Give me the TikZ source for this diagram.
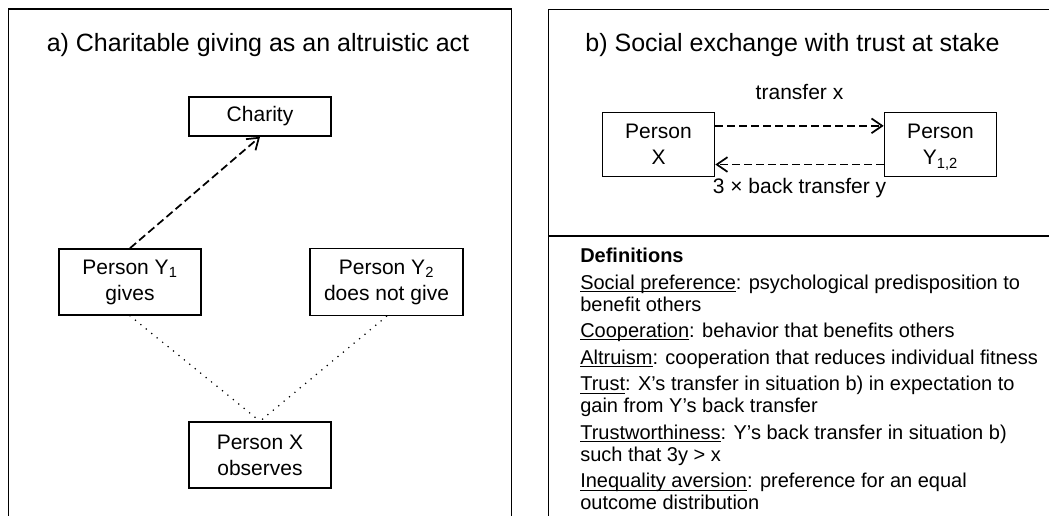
\documentclass[tikz,border=0pt]{standalone}
\usepackage{fontspec}
\setmainfont{Liberation Sans}
\usetikzlibrary{positioning,arrows.meta}
\newcommand\defword[1]{\underline{\smash{#1}}}
\tikzset{
  box/.style={draw, line width=1.2pt, align=center, inner sep=0pt,
    minimum width=106.5pt, minimum height=49.5pt,
    font=\fontsize{15.75}{19.5}\selectfont},
  lbl/.style={font=\fontsize{15.75}{19.5}\selectfont},
  heading/.style={anchor=base, font=\fontsize{18.75}{22}\selectfont},
  panel/.style={line width=1.2pt},
  dasharrow/.style={->, line width=1.3pt, dash pattern=on 6pt off 3pt},
  dotline/.style={line width=1.3pt, line cap=round, dash pattern=on 0pt off 5.25pt},
  >={Straight Barb[length=8pt,width=11pt]}
}
\begin{document}
\begin{tikzpicture}[x=0.75pt,y=-0.75pt]
\useasboundingbox (0,0) rectangle (1049,515);
\draw[panel] (8.5,520) -- (8.5,9) -- (511.5,9) -- (511.5,520);
\draw[panel] (548.5,520) -- (548.5,9.5) -- (1056,9.5);
\draw[panel] (548.5,236) -- (1056,236);
\node[heading] (titlea) at (258,51.5) {a) Charitable giving as an altruistic act};
\node[heading] (titleb) at (792.5,51.5) {b) Social exchange with trust at stake};
\node[box, minimum height=29.25pt] (charity) at (260,116.5) {Charity};
\node[box] (giver) at (130,282) {Person Y\smash{\textsubscript{1}}\\gives};
\node[box, minimum width=114.75pt, minimum height=50.25pt] (nongiver) at (386.5,282)
    {Person Y\smash{\textsubscript{2}}\\does not give};
\node[box] (observer) at (260,455) {Person X\\observes};
\draw[dasharrow] (giver.north) -- (charity.south);
\draw[dotline] (giver.south) -- (observer.north);
\draw[dotline] (nongiver.south) -- (observer.north);
\node[box, minimum width=84pt, minimum height=48pt] (truster) at (658.5,144.5) {Person\\X};
\node[box, minimum width=84pt, minimum height=48pt] (trustee) at (940.5,144.5)
    {Person\\Y\smash{\textsubscript{1,2}}};
\draw[dasharrow] ([yshift=14pt]truster.east) -- node[lbl, above=15.75pt] (sent) {transfer x}
    ([yshift=14pt]trustee.west);
\draw[dasharrow] ([yshift=-15pt]trustee.west) -- node[lbl, below=6pt] (returned) {3 × back transfer y}
    ([yshift=-15pt]truster.east);
\node[anchor=north west, inner sep=0pt, align=left, font=\fontsize{15}{16.5}\selectfont] (defs)
    at (580,248) {\textbf{Definitions}\\[3.4pt]
    \defword{Social preference}: psychological predisposition to\\
    benefit others\\[3.4pt]
    \defword{Cooperation}: behavior that benefits others\\[3.4pt]
    \defword{Altruism}: cooperation that reduces individual fitness\\[3.4pt]
    \defword{Trust}: X's transfer in situation b) in expectation to\\
    gain from Y's back transfer\\[3.4pt]
    \defword{Trustworthiness}: Y's back transfer in situation b)\\
    such that 3y > x\\[3.4pt]
    \defword{Inequality aversion}: preference for an equal\\
    outcome distribution};
\end{tikzpicture}
\end{document}
